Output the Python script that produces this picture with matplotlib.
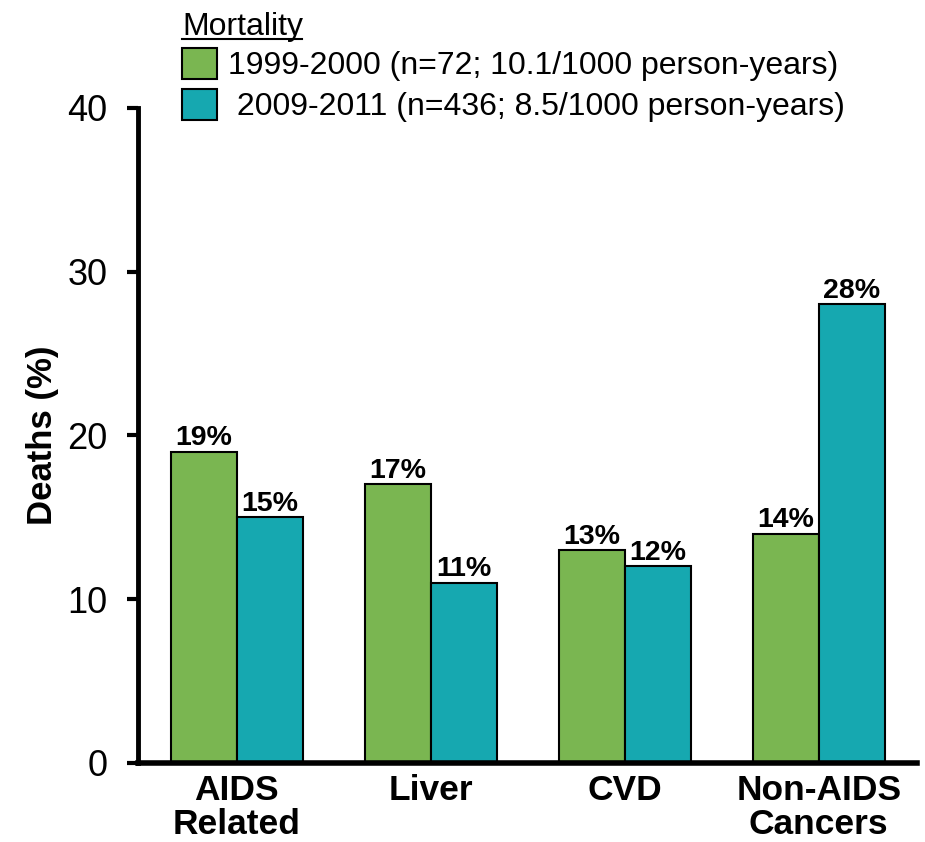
import numpy as np
import matplotlib
matplotlib.use("Agg")
import matplotlib.pyplot as plt

plt.rcParams['font.family'] = ['Liberation Sans', 'DejaVu Sans']

# Data
categories = ["AIDS\nRelated", "Liver", "CVD", "Non-AIDS\nCancers"]
deaths_1999 = [19, 17, 13, 14]
deaths_2009 = [15, 11, 12, 28]
label_1999 = "1999-2000 (n=72; 10.1/1000 person-years)"
label_2009 = " 2009-2011 (n=436; 8.5/1000 person-years)"

green = "#7AB651"
teal = "#16A8B0"

fig = plt.figure(figsize=(9.25, 8.42), dpi=100)
ax = fig.add_axes([0.149, 0.094, 0.842, 0.778])

x = np.arange(len(categories))
w = 0.34
b1 = ax.bar(x - w / 2, deaths_1999, w, color=green, edgecolor="black", linewidth=1.5, label=label_1999)
b2 = ax.bar(x + w / 2, deaths_2009, w, color=teal, edgecolor="black", linewidth=1.5, label=label_2009)

# Value labels
for bars, vals in [(b1, deaths_1999), (b2, deaths_2009)]:
    for rect, v in zip(bars, vals):
        ax.text(rect.get_x() + rect.get_width() / 2, v + 0.02, f"{v}%",
                ha="center", va="bottom", fontsize=20.5, fontweight="bold")

ax.set_xlim(-0.51, 3.505)
ax.set_ylim(0, 40)
ax.set_yticks([0, 10, 20, 30, 40])
ax.set_xticks(x)
ax.set_xticklabels(categories, fontsize=25.5, fontweight="bold", linespacing=1.05)
ax.tick_params(axis="y", labelsize=26, length=8, width=3, pad=14)
ax.tick_params(axis="x", length=0, pad=8)

for s in ["top", "right"]:
    ax.spines[s].set_visible(False)
ax.spines["left"].set_linewidth(3.5)
ax.spines["bottom"].set_linewidth(4)

ax.set_ylabel("Deaths (%)", fontsize=25, fontweight="bold", labelpad=6)

# Legend
leg = ax.legend(handles=[b1, b2], loc="upper left", bbox_to_anchor=(182 / 925, 1 - 48 / 842),
                bbox_transform=fig.transFigure, frameon=False, fontsize=23,
                handlelength=1.1, handleheight=1.1, handletextpad=0.34,
                labelspacing=0.25, borderaxespad=0, borderpad=0)
fig.text(182 / 925, 1 - 35 / 842, "Mortality", fontsize=23, ha="left", va="baseline")
fig.add_artist(plt.Line2D([182 / 925, 302 / 925], [1 - 39 / 842, 1 - 39 / 842],
                          color="black", linewidth=1.5))

plt.savefig("out.png", dpi=100)
